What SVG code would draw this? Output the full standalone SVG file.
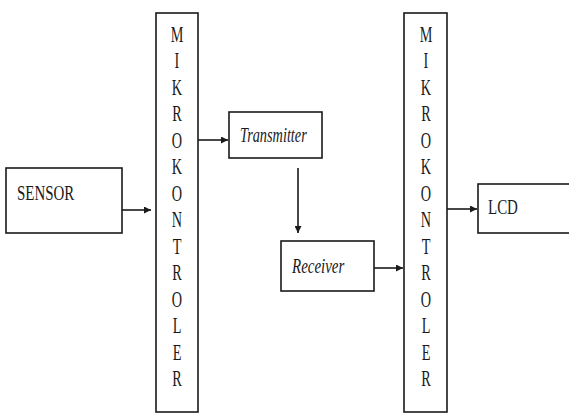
<svg xmlns="http://www.w3.org/2000/svg" width="569" height="418" viewBox="0 0 569 418">
  <style>
    .box { fill: #ffffff; stroke: #1a1a1a; stroke-width: 1.6; }
    .lbl { font-family: "Liberation Serif", "Times New Roman", serif; font-size: 22px; fill: #1a1a1a; }
    .it { font-style: italic; }
    .col { font-family: "Liberation Serif", "Times New Roman", serif; font-size: 23px; fill: #1a1a1a; text-anchor: middle; }
    .conn { stroke: #1a1a1a; stroke-width: 1.6; fill: none; marker-end: url(#arrow); }
  </style>
  <defs>
    <marker id="arrow" viewBox="0 0 10 10" refX="10" refY="5" markerWidth="7" markerHeight="7" markerUnits="userSpaceOnUse" orient="auto">
      <path d="M0,0 L10,5 L0,10 z" fill="#1a1a1a"/>
    </marker>
  </defs>
  <rect width="569" height="418" fill="#ffffff"/>

  <g id="sensor">
    <rect class="box" x="6" y="168" width="116" height="65"/>
    <text class="lbl" transform="translate(17,200) scale(0.68,1)">SENSOR</text>
  </g>

  <g id="mikro1">
    <rect class="box" x="156" y="13" width="42" height="399"/>
    <text class="col" transform="translate(177,42) scale(0.62,1)"><tspan x="0" dy="0">M</tspan><tspan x="0" dy="26.5">I</tspan><tspan x="0" dy="26.5">K</tspan><tspan x="0" dy="26.5">R</tspan><tspan x="0" dy="26.5">O</tspan><tspan x="0" dy="26.5">K</tspan><tspan x="0" dy="26.5">O</tspan><tspan x="0" dy="26.5">N</tspan><tspan x="0" dy="26.5">T</tspan><tspan x="0" dy="26.5">R</tspan><tspan x="0" dy="26.5">O</tspan><tspan x="0" dy="26.5">L</tspan><tspan x="0" dy="26.5">E</tspan><tspan x="0" dy="26.5">R</tspan></text>
  </g>

  <g id="transmitter">
    <rect class="box" x="229" y="112" width="93" height="46"/>
    <text class="lbl it" transform="translate(240,142) scale(0.65,1)">Transmitter</text>
  </g>

  <g id="receiver">
    <rect class="box" x="281" y="241" width="93" height="50"/>
    <text class="lbl it" transform="translate(292,273) scale(0.68,1)">Receiver</text>
  </g>

  <g id="mikro2">
    <rect class="box" x="404" y="13" width="43" height="399"/>
    <text class="col" transform="translate(426,42) scale(0.62,1)"><tspan x="0" dy="0">M</tspan><tspan x="0" dy="26.5">I</tspan><tspan x="0" dy="26.5">K</tspan><tspan x="0" dy="26.5">R</tspan><tspan x="0" dy="26.5">O</tspan><tspan x="0" dy="26.5">K</tspan><tspan x="0" dy="26.5">O</tspan><tspan x="0" dy="26.5">N</tspan><tspan x="0" dy="26.5">T</tspan><tspan x="0" dy="26.5">R</tspan><tspan x="0" dy="26.5">O</tspan><tspan x="0" dy="26.5">L</tspan><tspan x="0" dy="26.5">E</tspan><tspan x="0" dy="26.5">R</tspan></text>
  </g>

  <g id="lcd">
    <rect class="box" x="478" y="184" width="100" height="49"/>
    <text class="lbl" transform="translate(488,214) scale(0.68,1)">LCD</text>
  </g>

  <g id="connectors">
    <line class="conn" x1="122" y1="210" x2="151" y2="210"/>
    <line class="conn" x1="198" y1="140" x2="228" y2="140"/>
    <line class="conn" x1="298" y1="168" x2="298" y2="233"/>
    <line class="conn" x1="374" y1="268" x2="403" y2="268"/>
    <line class="conn" x1="447" y1="209" x2="477" y2="209"/>
  </g>
</svg>
